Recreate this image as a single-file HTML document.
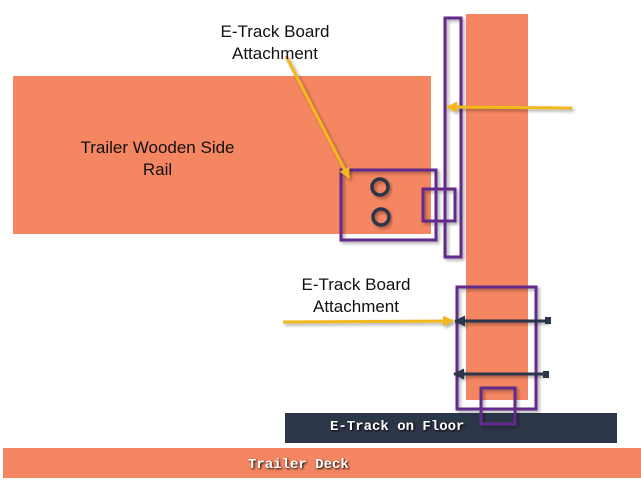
<!DOCTYPE html>
<html><head><style>
body{margin:0;width:641px;height:493px;background:#fff;position:relative;overflow:hidden;font-family:"Liberation Sans",sans-serif}
</style></head><body>
<svg width="641" height="493" style="position:absolute;left:0;top:0">
<defs>
<filter id="sh" x="-20%" y="-20%" width="140%" height="140%"><feDropShadow dx="2" dy="2" stdDeviation="1.5" flood-color="#000" flood-opacity="0.35"/></filter>
<marker id="ay" markerWidth="11" markerHeight="11" refX="10" refY="5.5" orient="auto" markerUnits="userSpaceOnUse"><path d="M0,0 L11,5.5 L0,11 Z" fill="#f2b81e"/></marker>
<marker id="ad" markerWidth="11" markerHeight="11" refX="10" refY="5.5" orient="auto" markerUnits="userSpaceOnUse"><path d="M0,0 L11,5.5 L0,11 Z" fill="#2c3649"/></marker>
</defs>
<rect x="13" y="76" width="418" height="158" fill="#f58662"/>
<rect x="466" y="14" width="62" height="386" fill="#f58662"/>
<rect x="285" y="413" width="332" height="30" fill="#2c3649"/>
<rect x="3" y="448" width="638" height="30" fill="#f58662"/>
<g fill="none" stroke="#642a8c" stroke-width="3" filter="url(#sh)">
<rect x="341" y="170" width="95" height="70"/>
<rect x="423" y="189" width="32" height="32"/>
<rect x="445" y="18" width="16" height="239"/>
<rect x="457" y="287" width="79" height="122"/>
<rect x="481" y="388" width="34" height="36"/>
</g>
<g fill="none" stroke="#2c3649" stroke-width="3.5" filter="url(#sh)">
<circle cx="380" cy="187" r="8"/><circle cx="381" cy="217" r="8"/>
</g>
<g stroke="#2c3649" stroke-width="3" filter="url(#sh)">
<line x1="548" y1="321" x2="455" y2="321" marker-end="url(#ad)"/>
<line x1="546" y1="374" x2="454" y2="374" marker-end="url(#ad)"/>
</g>
<rect x="545" y="317" width="6" height="7" fill="#2c3649"/>
<rect x="543" y="371" width="6" height="7" fill="#2c3649"/>
<g stroke="#f2b81e" stroke-width="3" filter="url(#sh)">
<line x1="286" y1="56" x2="349" y2="178" marker-end="url(#ay)"/>
<line x1="572" y1="108" x2="447" y2="107" marker-end="url(#ay)"/>
<line x1="283" y1="322" x2="453" y2="321" marker-end="url(#ay)"/>
</g>
</svg>
<div style="position:absolute;left:200px;top:21px;width:150px;text-align:center;font-size:17px;line-height:22px;color:#111">E-Track Board<br>Attachment</div>
<div style="position:absolute;left:60px;top:137px;width:195px;text-align:center;font-size:17px;line-height:22px;color:#111">Trailer Wooden Side<br>Rail</div>
<div style="position:absolute;left:281px;top:274px;width:150px;text-align:center;font-size:17px;line-height:22px;color:#111">E-Track Board<br>Attachment</div>
<div style="position:absolute;left:330px;top:419px;font-family:'Liberation Mono',monospace;font-weight:bold;font-size:14px;color:#fff;text-shadow:1px 1px 2px #000">E-Track on Floor</div>
<div style="position:absolute;left:248px;top:457px;font-family:'Liberation Mono',monospace;font-weight:bold;font-size:14px;color:#fff;text-shadow:1px 1px 2px #000">Trailer Deck</div>
</body></html>
